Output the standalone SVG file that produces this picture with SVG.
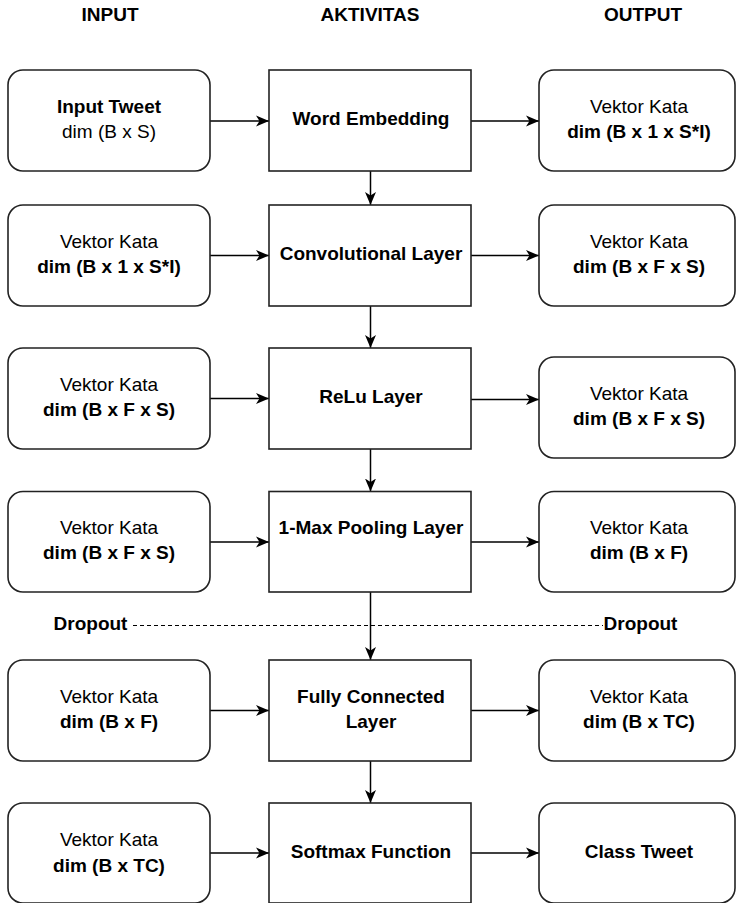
<svg xmlns="http://www.w3.org/2000/svg" width="736" height="903" viewBox="0 0 736 903">
<style>
text{font-family:"Liberation Sans",Arial,sans-serif;font-size:19px;fill:#000;text-anchor:middle}
.b{font-weight:bold}
.box{fill:#fff;stroke:#222;stroke-width:1.6}
.con{fill:none;stroke:#000;stroke-width:1.5}
.dash{fill:none;stroke:#000;stroke-width:1.2;stroke-dasharray:4 3}
</style>
<defs>
<marker id="arr" markerWidth="14" markerHeight="12" refX="13" refY="6" orient="auto" markerUnits="userSpaceOnUse">
<path d="M0,0.5 L13,6 L0,11.5 L3.5,6 Z" fill="#000"/>
</marker>
</defs>
<rect width="736" height="903" fill="#fff"/>
<g id="headers">
<text class="b" x="110" y="21">INPUT</text>
<text class="b" x="370" y="21">AKTIVITAS</text>
<text class="b" x="643" y="21">OUTPUT</text>
</g>
<g id="connectors">
<line class="con" x1="210" y1="121" x2="269" y2="121" marker-end="url(#arr)"/>
<line class="con" x1="471" y1="121" x2="539" y2="121" marker-end="url(#arr)"/>
<line class="con" x1="370.5" y1="171" x2="370.5" y2="205" marker-end="url(#arr)"/>
<line class="con" x1="210" y1="255.5" x2="269" y2="255.5" marker-end="url(#arr)"/>
<line class="con" x1="471" y1="255.5" x2="539" y2="255.5" marker-end="url(#arr)"/>
<line class="con" x1="370.5" y1="306" x2="370.5" y2="348" marker-end="url(#arr)"/>
<line class="con" x1="210" y1="398.5" x2="269" y2="398.5" marker-end="url(#arr)"/>
<line class="con" x1="471" y1="399.5" x2="539" y2="399.5" marker-end="url(#arr)"/>
<line class="con" x1="370.5" y1="449" x2="370.5" y2="491.5" marker-end="url(#arr)"/>
<line class="con" x1="210" y1="542" x2="269" y2="542" marker-end="url(#arr)"/>
<line class="con" x1="471" y1="542" x2="539" y2="542" marker-end="url(#arr)"/>
<line class="con" x1="370.5" y1="592" x2="370.5" y2="660" marker-end="url(#arr)"/>
<line class="con" x1="210" y1="710.5" x2="269" y2="710.5" marker-end="url(#arr)"/>
<line class="con" x1="471" y1="710.5" x2="539" y2="710.5" marker-end="url(#arr)"/>
<line class="con" x1="370.5" y1="761" x2="370.5" y2="803" marker-end="url(#arr)"/>
<line class="con" x1="210" y1="853" x2="269" y2="853" marker-end="url(#arr)"/>
<line class="con" x1="471" y1="853" x2="539" y2="853" marker-end="url(#arr)"/>
<line class="dash" x1="133" y1="625.5" x2="603" y2="625.5"/>
</g>
<g id="dropout">
<text class="b" x="90.5" y="630">Dropout</text>
<text class="b" x="640.5" y="630">Dropout</text>
</g>
<!-- Row 1 -->
<g id="in1"><rect class="box" x="8" y="70" width="202" height="101" rx="15"/>
<text class="b" x="109" y="113">Input Tweet</text><text x="109" y="138">dim (B x S)</text></g>
<g id="act1"><rect class="box" x="269" y="70" width="202" height="101"/>
<text class="b" x="371" y="125">Word Embedding</text></g>
<g id="out1"><rect class="box" x="539" y="70" width="196" height="101" rx="15"/>
<text x="639" y="113">Vektor Kata</text><text class="b" x="639" y="138">dim (B x 1 x S*I)</text></g>
<!-- Row 2 -->
<g id="in2"><rect class="box" x="8" y="205" width="202" height="101" rx="15"/>
<text x="109" y="248">Vektor Kata</text><text class="b" x="109" y="273">dim (B x 1 x S*I)</text></g>
<g id="act2"><rect class="box" x="269" y="205" width="202" height="101"/>
<text class="b" x="371" y="259.5">Convolutional Layer</text></g>
<g id="out2"><rect class="box" x="539" y="205" width="196" height="101" rx="15"/>
<text x="639" y="248">Vektor Kata</text><text class="b" x="639" y="273">dim (B x F x S)</text></g>
<!-- Row 3 -->
<g id="in3"><rect class="box" x="8" y="348" width="202" height="101" rx="15"/>
<text x="109" y="391">Vektor Kata</text><text class="b" x="109" y="416">dim (B x F x S)</text></g>
<g id="act3"><rect class="box" x="269" y="348" width="202" height="101"/>
<text class="b" x="371" y="403">ReLu Layer</text></g>
<g id="out3"><rect class="box" x="539" y="357" width="196" height="101" rx="15"/>
<text x="639" y="399.5">Vektor Kata</text><text class="b" x="639" y="425">dim (B x F x S)</text></g>
<!-- Row 4 -->
<g id="in4"><rect class="box" x="8" y="491.5" width="202" height="100.5" rx="15"/>
<text x="109" y="533.5">Vektor Kata</text><text class="b" x="109" y="559">dim (B x F x S)</text></g>
<g id="act4"><rect class="box" x="269" y="491.5" width="202" height="100.5"/>
<text class="b" x="371" y="534">1-Max Pooling Layer</text></g>
<g id="out4"><rect class="box" x="539" y="491.5" width="196" height="100.5" rx="15"/>
<text x="639" y="533.5">Vektor Kata</text><text class="b" x="639" y="559">dim (B x F)</text></g>
<!-- Row 5 -->
<g id="in5"><rect class="box" x="8" y="660" width="202" height="101" rx="15"/>
<text x="109" y="703">Vektor Kata</text><text class="b" x="109" y="728">dim (B x F)</text></g>
<g id="act5"><rect class="box" x="269" y="660" width="202" height="101"/>
<text class="b" x="371" y="703">Fully Connected</text><text class="b" x="371" y="728">Layer</text></g>
<g id="out5"><rect class="box" x="539" y="660" width="196" height="101" rx="15"/>
<text x="639" y="703">Vektor Kata</text><text class="b" x="639" y="728">dim (B x TC)</text></g>
<!-- Row 6 -->
<g id="in6"><rect class="box" x="8" y="803" width="202" height="100" rx="15"/>
<text x="109" y="846">Vektor Kata</text><text class="b" x="109" y="872">dim (B x TC)</text></g>
<g id="act6"><rect class="box" x="269" y="803" width="202" height="100"/>
<text class="b" x="371" y="858">Softmax Function</text></g>
<g id="out6"><rect class="box" x="539" y="803" width="196" height="100" rx="15"/>
<text class="b" x="639" y="858">Class Tweet</text></g>
</svg>
